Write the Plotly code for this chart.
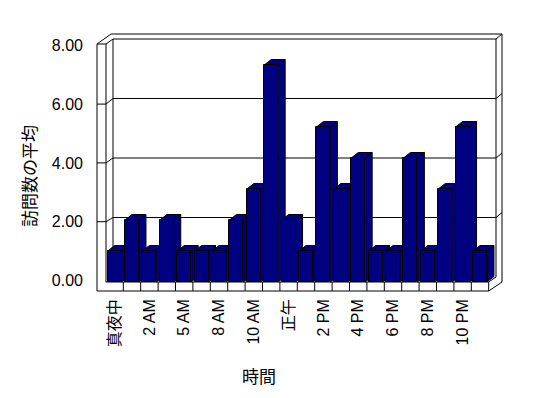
import plotly.graph_objects as go

# ---- data ----
categories = ["真夜中", "1 AM", "2 AM", "3 AM", "5 AM", "6 AM", "8 AM", "9 AM", "10 AM", "11 AM",
              "正午", "1 PM", "2 PM", "3 PM", "4 PM", "5 PM", "6 PM", "7 PM", "8 PM", "9 PM",
              "10 PM", "11 PM"]
values = [1, 2, 1, 2, 1, 1, 1, 2, 3, 7, 2, 1, 5, 3, 4, 1, 1, 4, 1, 3, 5, 1]
y_ticks = [0, 2, 4, 6, 8]
y_tick_labels = ["0.00", "2.00", "4.00", "6.00", "8.00"]
x_title = "時間"
y_title = "訪問数の平均"

# ---- style / geometry (screen pixels) ----
PAGE_OFF = 8                      # body margin of the page
W, H = 548 - PAGE_OFF, 398 - PAGE_OFF
L, R, T, B = 90, 510, 30, 295     # plot box in screen pixels
NAVY = "#000080"
X0PX, XU = 114.6, 17.4            # pixel of category 0, px per category
Y0PX, YU = 282.0, 31.0            # front-face zero, px per unit
LY0, LYU = 280.5, 29.4            # label axis scale
BAR_W = 0.8
DDX, DDY = 7.0 / XU, 5.5 / YU     # bar depth in data units

def px2x(px):
    return (px - X0PX) / XU

def py2y(py):
    return (Y0PX - py) / YU

xr = [px2x(L), px2x(R)]
yr = [py2y(B), py2y(T)]
lyr = [(LY0 - B) / LYU, (LY0 - T) / LYU]

n = len(values)
idx = list(range(n))

fig = go.Figure()

# side & top faces (drawn left to right, under the front faces)
for i, v in enumerate(values):
    xr_ = i + BAR_W / 2
    xl_ = i - BAR_W / 2
    fig.add_trace(go.Scatter(
        x=[xr_, xr_, xr_ + DDX, xr_ + DDX, xr_],
        y=[0, v, v + DDY, DDY, 0],
        fill="toself", fillcolor=NAVY, mode="lines",
        line=dict(color="black", width=1),
        hoverinfo="skip", showlegend=False))
    fig.add_trace(go.Scatter(
        x=[xl_, xr_, xr_ + DDX, xl_ + DDX, xl_],
        y=[v, v, v + DDY, v + DDY, v],
        fill="toself", fillcolor=NAVY, mode="lines",
        line=dict(color="black", width=1),
        hoverinfo="skip", showlegend=False))

# front faces
fig.add_trace(go.Bar(
    x=idx, y=values, width=BAR_W, yaxis="y2",
    marker=dict(color=NAVY, line=dict(color="black", width=1)),
    hovertext=categories, showlegend=False))

# invisible trace so the label axis exists
fig.add_trace(go.Scatter(x=[idx[0]], y=[y_ticks[0]], yaxis="y3", mode="markers",
                         marker=dict(opacity=0), hoverinfo="skip", showlegend=False))

# ---- frame (walls / floor) ----
shapes = []
def seg(p1, p2, layer="below"):
    shapes.append(dict(type="line", xref="x", yref="y",
                       x0=px2x(p1[0]), y0=py2y(p1[1]),
                       x1=px2x(p2[0]), y1=py2y(p2[1]),
                       line=dict(color="black", width=1), layer=layer))

def back_py(v):
    return 277 - 29.75 * v

def left_py(v):
    return LY0 - LYU * v

floor_l = X0PX - 0.5 * XU
floor_r = X0PX + (n - 0.5) * XU
# left wall front face
seg((97, 44), (97, 291))
seg((106, 44), (106, 282))
seg((97, 44), (106, 44))
# left wall top
seg((97, 44), (111, 34))
seg((106, 44), (113, 39))
# back wall
seg((111, 34), (502, 34))
seg((113, back_py(8)), (496, back_py(8)))
seg((496, back_py(8)), (502, 34))
seg((502, 34), (502, 282))
seg((496, back_py(8)), (496, back_py(0)))
seg((113, back_py(8)), (113, back_py(0)))
# gridlines
for v in y_ticks[1:-1]:
    seg((97, left_py(v)), (106, left_py(v)))
    seg((106, left_py(v)), (113, back_py(v)))
    seg((113, back_py(v)), (496, back_py(v)))
    seg((496, back_py(v)), (502, back_py(v) - 5))
# floor front face
seg((floor_l, 282), (floor_r, 282))
seg((97, 291), (floor_r, 291))
for k in range(1, n + 1):
    xp = X0PX + (k - 0.5) * XU
    seg((xp, 282), (xp, 291))
seg((floor_r, 291), (502, 282))
seg((floor_r, 282), (496, 277))

fig.update_layout(
    width=W, height=H,
    margin=dict(l=L - PAGE_OFF, r=W - (R - PAGE_OFF), t=T - PAGE_OFF,
                b=H - (B - PAGE_OFF), pad=0),
    paper_bgcolor="white", plot_bgcolor="white",
    shapes=shapes,
    bargap=0,
    xaxis=dict(range=xr, showgrid=False, zeroline=False, showline=False,
               tickmode="array", tickvals=idx[::2], ticktext=categories[::2],
               tickangle=-90, ticks="",
               tickfont=dict(family="Liberation Sans, Noto Sans CJK JP", size=16, color="black")),
    yaxis=dict(range=yr, showgrid=False, zeroline=False, showline=False,
               showticklabels=False, ticks=""),
    yaxis2=dict(range=yr, overlaying="y", showgrid=False, zeroline=False,
                showline=False, showticklabels=False, ticks=""),
    yaxis3=dict(range=lyr, overlaying="y", side="left", showgrid=False, zeroline=False,
                showline=False, tickmode="array", tickvals=y_ticks, ticktext=y_tick_labels,
                ticks="", ticklabelstandoff=6,
                tickfont=dict(family="Liberation Sans", size=16, color="black")),
    annotations=[
        dict(text=y_title, xref="paper", yref="paper",
             x=(28 - L) / (R - L), y=(B - 176) / (B - T), textangle=-90,
             showarrow=False, xanchor="center", yanchor="middle",
             font=dict(family="Noto Sans CJK JP", size=17, color="black")),
        dict(text=x_title, xref="paper", yref="paper",
             x=(259 - L) / (R - L), y=(B - 375) / (B - T),
             showarrow=False, xanchor="center", yanchor="middle",
             font=dict(family="Noto Sans CJK JP", size=17, color="black")),
    ],
)

fig.write_html("out.html")
